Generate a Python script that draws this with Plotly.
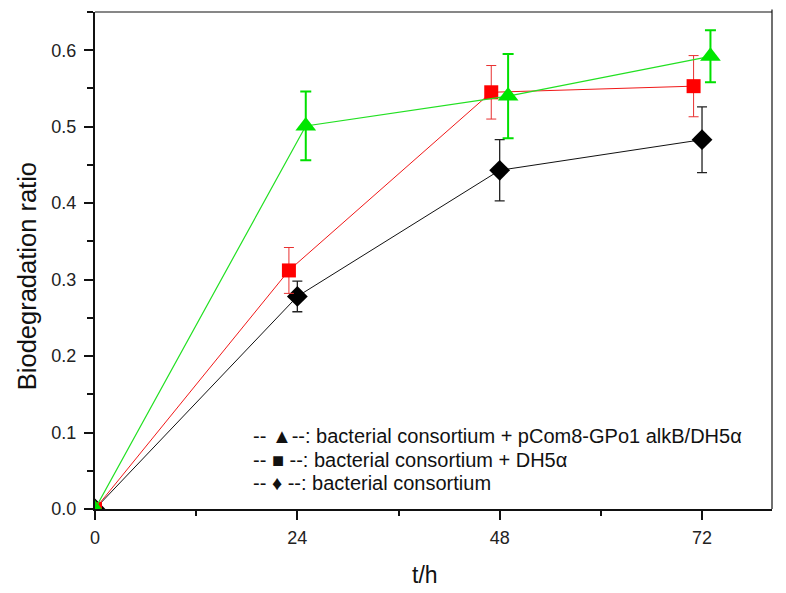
import plotly.graph_objects as go

# Data
t_black = [0, 24, 48, 72]
y_black = [0.0, 0.278, 0.443, 0.483]
e_black = [0.0, 0.020, 0.040, 0.043]

t_red = [0, 23, 47, 71]
y_red = [0.0, 0.312, 0.545, 0.553]
e_red = [0.0, 0.030, 0.035, 0.040]

t_green = [0, 25, 49, 73]
y_green = [0.0, 0.501, 0.540, 0.592]
e_green = [0.0, 0.045, 0.055, 0.034]

legend_lines = [
    "-- ▲--: bacterial consortium + pCom8-GPo1 alkB/DH5α",
    "-- ■ --: bacterial consortium + DH5α",
    "-- ♦ --: bacterial consortium",
]

x_ticks = [0, 24, 48, 72]
y_ticks = [0.0, 0.1, 0.2, 0.3, 0.4, 0.5, 0.6]

FONT = "Liberation Sans, Arial, sans-serif"

fig = go.Figure()
fig.add_trace(go.Scatter(
    x=t_black, y=y_black, mode="lines+markers",
    line=dict(color="#111111", width=1),
    marker=dict(symbol="diamond", size=16, color="#000000"),
    error_y=dict(type="data", array=e_black, visible=True, color="#222222", thickness=1.3, width=5),
    showlegend=False,
))
fig.add_trace(go.Scatter(
    x=t_red, y=y_red, mode="lines+markers",
    line=dict(color="#f01818", width=1),
    marker=dict(symbol="square", size=14, color="#ff0000"),
    error_y=dict(type="data", array=e_red, visible=True, color="#e83030", thickness=1, width=5),
    showlegend=False,
))
fig.add_trace(go.Scatter(
    x=t_green, y=y_green, mode="lines+markers",
    line=dict(color="#22e022", width=1.2),
    marker=dict(symbol="triangle-up", size=18, color="#00e600"),
    error_y=dict(type="data", array=e_green, visible=True, color="#00e000", thickness=2, width=5.5),
    showlegend=False,
))

legend_y = [0.147, 0.099, 0.052]
for txt, yy in zip(legend_lines, legend_y):
    fig.add_annotation(
        xref="paper", yref="paper", x=0.231, y=yy,
        xanchor="left", yanchor="middle", showarrow=False,
        text=txt, font=dict(family=FONT, size=20, color="#111111"),
    )

# axis titles
fig.add_annotation(xref="paper", yref="paper", x=0.487, y=-0.133,
                   xanchor="center", yanchor="middle", showarrow=False,
                   text="t/h", font=dict(family=FONT, size=23, color="#111111"))
fig.add_annotation(xref="paper", yref="paper", x=-0.100, y=0.469,
                   xanchor="center", yanchor="middle", showarrow=False, textangle=-90,
                   text="Biodegradation ratio", font=dict(family=FONT, size=25.5, color="#111111"))

# top and right frame lines (thin)
fig.add_shape(type="line", xref="paper", yref="paper", x0=0, x1=1, y0=1, y1=1,
              line=dict(color="#111111", width=1.2))
fig.add_shape(type="line", xref="paper", yref="paper", x0=1, x1=1, y0=0, y1=1.005,
              line=dict(color="#111111", width=1.2))

fig.update_layout(
    width=786, height=593,
    margin=dict(l=87, r=22, t=4, b=92),
    paper_bgcolor="white", plot_bgcolor="white",
    font=dict(family=FONT, color="#222222"),
    xaxis=dict(
        range=[0, 80.3], tickvals=x_ticks, ticktext=[str(v) for v in x_ticks],
        ticks="outside", ticklen=9, tickwidth=2, tickcolor="#111111",
        showline=True, linecolor="#111111", linewidth=2, showgrid=False, zeroline=False,
        minor=dict(tickvals=[12, 36, 60], ticks="outside", ticklen=5, tickwidth=2, tickcolor="#111111"),
        tickfont=dict(size=18, color="#222222"), ticklabelstandoff=2,
    ),
    yaxis=dict(
        range=[0, 0.65], tickvals=y_ticks, ticktext=[f"{v:.1f}" for v in y_ticks],
        ticks="outside", ticklen=9, tickwidth=2, tickcolor="#111111",
        showline=True, linecolor="#111111", linewidth=2, showgrid=False, zeroline=False,
        minor=dict(tickvals=[0.05, 0.15, 0.25, 0.35, 0.45, 0.55, 0.65], ticks="outside",
                   ticklen=6, tickwidth=2, tickcolor="#111111"),
        tickfont=dict(size=18, color="#222222"), ticklabelstandoff=4,
    ),
)

fig.write_html("out.html")
